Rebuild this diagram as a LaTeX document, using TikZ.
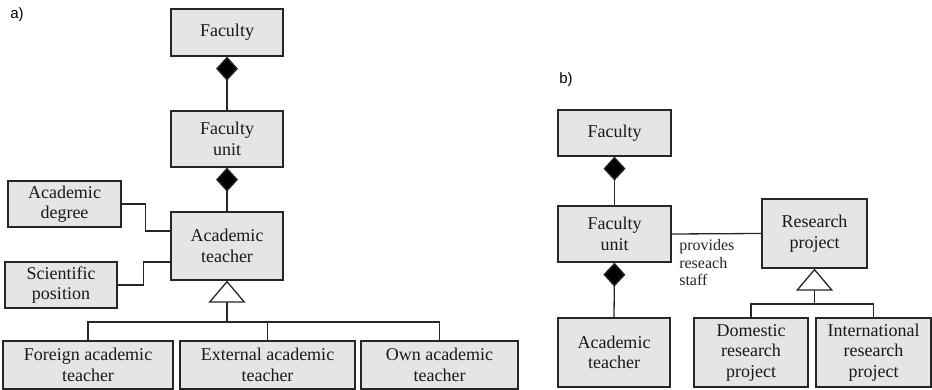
\documentclass[tikz,border=0pt]{standalone}
\usepackage{fontspec}
\setmainfont{Liberation Serif}
\newfontfamily\labfont{Liberation Sans}
\usetikzlibrary{arrows.meta}
\begin{document}
\begin{tikzpicture}[
      x=1pt, y=-1pt,
      box/.style={draw=black!85, fill=black!10, line width=1.3pt, align=center,
                  inner sep=0pt, text=black!90,
                  font=\fontsize{18}{20.5}\selectfont},
      conn/.style={draw=black!85, line width=1.3pt},
      comp/.style={conn, -{Diamond[length=24pt,width=22pt,fill=black]}},
      gen/.style={conn, -{Triangle[open,length=22pt,width=37pt,fill=white]}},
      lbl/.style={font=\fontsize{16}{17.5}\selectfont, align=left, inner sep=0pt, text=black!85},
      part/.style={font=\labfont\fontsize{15}{18}\selectfont, inner sep=0pt}
    ]
      \useasboundingbox (0,0) rectangle (932,390);
      % a)
      \node[part] (pa) at (17,15) {a)};
      \node[box, minimum width=112pt, minimum height=47pt] (fa) at (227,32.5) {Faculty};
      \node[box, minimum width=112pt, minimum height=56pt] (fua) at (227,139) {Faculty\\unit};
      \node[box, minimum width=112pt, minimum height=68pt] (ata) at (227,246) {Academic\\teacher};
      \node[box, minimum width=113pt, minimum height=46pt] (deg) at (64.5,204) {Academic\\degree};
      \node[box, minimum width=112pt, minimum height=46pt] (pos) at (61,285) {Scientific\\position};
      \node[box, minimum width=170pt, minimum height=48pt] (forg) at (88,365) {Foreign academic\\teacher};
      \node[box, minimum width=175pt, minimum height=48pt] (extn) at (267.5,365) {External academic\\teacher};
      \node[box, minimum width=157pt, minimum height=48pt] (own) at (439.5,365) {Own academic\\teacher};
      \coordinate (busa) at (227,322);
      \draw[comp] (fua.north) -- (fa.south);
      \draw[comp] (ata.north) -- (fua.south);
      \draw[conn] (deg.east) -- ++(24,0) |- ([yshift=15pt]ata.west);
      \draw[conn] (pos.east) -- ++(26,0) |- ([yshift=-16pt]ata.west);
      \draw[conn] (forg.north) |- (busa) -| (extn.north);
      \draw[conn] (busa) -| (own.north);
      \draw[gen] (busa) -- (ata.south);
      % b)
      \node[part] (pb) at (566,80) {b)};
      \node[box, minimum width=113pt, minimum height=46pt] (fb) at (614.5,133) {Faculty};
      \node[box, minimum width=113pt, minimum height=56pt] (fub) at (614.5,234) {Faculty\\unit};
      \node[box, minimum width=112pt, minimum height=69pt] (atb) at (614,352.5) {Academic\\teacher};
      \node[box, minimum width=105pt, minimum height=69pt] (rp) at (814.5,233.5) {Research\\project};
      \node[box, minimum width=114pt, minimum height=69pt] (dom) at (751,352.5) {Domestic\\research\\project};
      \node[box, minimum width=115pt, minimum height=69pt] (intl) at (873.5,352.5) {International\\research\\project};
      \coordinate (busb) at (814.5,304);
      \draw[comp] (fub.north) -- (fb.south);
      \draw[comp] (atb.north) -- (fub.south);
      \draw[conn] (fub.east) -- node[lbl, pos=0, anchor=north west, xshift=7pt, yshift=-5pt] (prov)
        {provides\\reseach\\staff} (rp.west);
      \draw[conn] (dom.north) |- (busb) -| (intl.north);
      \draw[gen] (busb) -- (rp.south);
    \end{tikzpicture}
\end{document}
